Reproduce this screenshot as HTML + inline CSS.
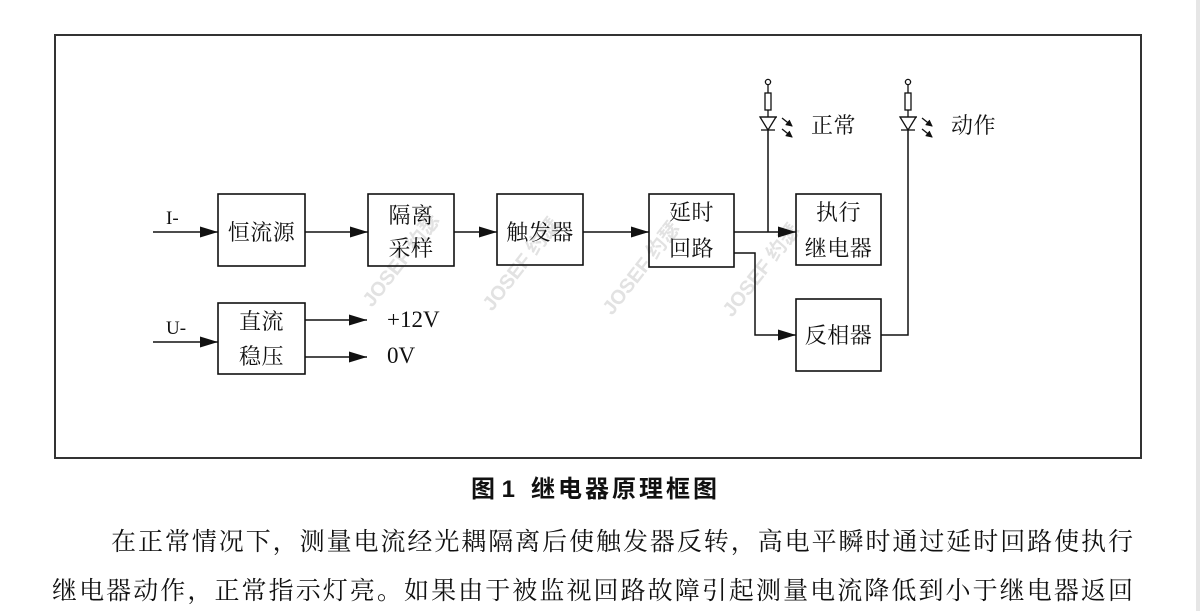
<!DOCTYPE html>
<html>
<head>
<meta charset="utf-8">
<style>
  html,body{margin:0;padding:0;background:#fff;}
  body{width:1200px;height:611px;overflow:hidden;position:relative;}
  svg{position:absolute;left:0;top:0;}
</style>
</head>
<body>
<svg width="1200" height="611" viewBox="0 0 1200 611" xmlns="http://www.w3.org/2000/svg">
  <defs>
    <marker id="ah" markerWidth="18" markerHeight="11" refX="18" refY="5.5" orient="auto" markerUnits="userSpaceOnUse">
      <path d="M0,0 L18,5.5 L0,11 Z" fill="#111"/>
    </marker>
    <marker id="sa" markerWidth="7" markerHeight="7" refX="6" refY="3.5" orient="auto" markerUnits="userSpaceOnUse">
      <path d="M0,0 L7,3.5 L0,7 Z" fill="#111"/>
    </marker>
  </defs>

  <!-- right edge strip -->
  <rect x="1196" y="0" width="4" height="611" fill="#e6e6e6"/>

  <!-- frame -->
  <rect x="55" y="35" width="1086" height="423" fill="none" stroke="#333" stroke-width="2"/>

  <!-- watermarks -->
  <g font-family="'Liberation Sans','Noto Sans CJK SC',sans-serif" font-weight="bold" font-size="20" fill="#e2e2e2">
    <text transform="translate(372,308) rotate(-52)">JOSEF 约瑟</text>
    <text transform="translate(492,312) rotate(-52)">JOSEF 约瑟</text>
    <text transform="translate(612,316) rotate(-52)">JOSEF 约瑟</text>
    <text transform="translate(732,318) rotate(-52)">JOSEF 约瑟</text>
  </g>

  <!-- boxes -->
  <g fill="none" stroke="#111" stroke-width="1.6">
    <rect x="218" y="194" width="87" height="72"/>
    <rect x="368" y="194" width="86" height="72"/>
    <rect x="497" y="194" width="86" height="71"/>
    <rect x="649" y="194" width="85" height="73"/>
    <rect x="796" y="194" width="85" height="71"/>
    <rect x="796" y="299" width="85" height="72"/>
    <rect x="218" y="303" width="87" height="71"/>
  </g>

  <!-- connectors -->
  <g fill="none" stroke="#111" stroke-width="1.5">
    <line x1="153" y1="232" x2="218" y2="232" marker-end="url(#ah)"/>
    <line x1="305" y1="232" x2="368" y2="232" marker-end="url(#ah)"/>
    <line x1="454" y1="232" x2="497" y2="232" marker-end="url(#ah)"/>
    <line x1="583" y1="232" x2="649" y2="232" marker-end="url(#ah)"/>
    <line x1="734" y1="232" x2="796" y2="232" marker-end="url(#ah)"/>
    <polyline points="734,253 755,253 755,335 796,335" marker-end="url(#ah)"/>
    <line x1="768" y1="130" x2="768" y2="232"/>
    <polyline points="881,335 908,335 908,130"/>
    <line x1="153" y1="342" x2="218" y2="342" marker-end="url(#ah)"/>
    <line x1="305" y1="320" x2="367" y2="320" marker-end="url(#ah)"/>
    <line x1="305" y1="357" x2="367" y2="357" marker-end="url(#ah)"/>
  </g>

  <!-- LED 1 -->
  <g fill="none" stroke="#111" stroke-width="1.3">
    <circle cx="768" cy="82" r="2.6"/>
    <line x1="768" y1="84.6" x2="768" y2="93"/>
    <rect x="765" y="93" width="6" height="17"/>
    <line x1="768" y1="110" x2="768" y2="117"/>
    <line x1="760" y1="117" x2="777" y2="117"/>
    <path d="M760,117 L776,117 L768,130 Z"/>
    <line x1="761" y1="130" x2="775" y2="130"/>
    <line x1="782" y1="118" x2="792" y2="126" marker-end="url(#sa)"/>
    <line x1="782" y1="129" x2="792" y2="137" marker-end="url(#sa)"/>
  </g>
  <!-- LED 2 -->
  <g fill="none" stroke="#111" stroke-width="1.3">
    <circle cx="908" cy="82" r="2.6"/>
    <line x1="908" y1="84.6" x2="908" y2="93"/>
    <rect x="905" y="93" width="6" height="17"/>
    <line x1="908" y1="110" x2="908" y2="117"/>
    <line x1="900" y1="117" x2="917" y2="117"/>
    <path d="M900,117 L916,117 L908,130 Z"/>
    <line x1="901" y1="130" x2="915" y2="130"/>
    <line x1="922" y1="118" x2="932" y2="126" marker-end="url(#sa)"/>
    <line x1="922" y1="129" x2="932" y2="137" marker-end="url(#sa)"/>
  </g>

  <!-- box labels -->
  <g font-family="'Liberation Serif','Noto Serif CJK SC',serif" font-size="22" fill="#111" text-anchor="middle">
    <text x="261.5" y="240" letter-spacing="0.5">恒流源</text>
    <text x="411" y="223" letter-spacing="0.5">隔离</text>
    <text x="411" y="256" letter-spacing="0.5">采样</text>
    <text x="540" y="240" letter-spacing="0.5">触发器</text>
    <text x="691.5" y="220" letter-spacing="0.5">延时</text>
    <text x="691.5" y="256" letter-spacing="0.5">回路</text>
    <text x="838.5" y="220" letter-spacing="0.5">执行</text>
    <text x="838.5" y="256" letter-spacing="0.5">继电器</text>
    <text x="838.5" y="343" letter-spacing="0.5">反相器</text>
    <text x="261.5" y="329" letter-spacing="0.5">直流</text>
    <text x="261.5" y="364" letter-spacing="0.5">稳压</text>
  </g>
  <g font-family="'Liberation Serif','Noto Serif CJK SC',serif" font-size="22" fill="#111">
    <text x="811" y="133" letter-spacing="0.5">正常</text>
    <text x="951" y="133" letter-spacing="0.5">动作</text>
  </g>
  <g font-family="'Liberation Serif',serif" fill="#111">
    <text x="166" y="224" font-size="19">I-</text>
    <text x="166" y="334" font-size="19">U-</text>
    <text x="387" y="327" font-size="23">+12V</text>
    <text x="387" y="363" font-size="23">0V</text>
  </g>

  <!-- caption -->
  <text x="471" y="497" font-family="'Liberation Sans','Noto Sans CJK SC',sans-serif" font-weight="bold" font-size="24" fill="#111">图 1</text>
  <text x="531" y="497" font-family="'Liberation Sans','Noto Sans CJK SC',sans-serif" font-weight="bold" font-size="24" fill="#111" textLength="186" lengthAdjust="spacing">继电器原理框图</text>

  <!-- body text -->
  <g font-family="'Liberation Serif','Noto Serif CJK SC',serif" font-size="25" fill="#111">
    <text x="111" y="550" textLength="1022" lengthAdjust="spacing">在正常情况下，测量电流经光耦隔离后使触发器反转，高电平瞬时通过延时回路使执行</text>
    <text x="52" y="599" textLength="1081" lengthAdjust="spacing">继电器动作，正常指示灯亮。如果由于被监视回路故障引起测量电流降低到小于继电器返回</text>
  </g>
</svg>
</body>
</html>
